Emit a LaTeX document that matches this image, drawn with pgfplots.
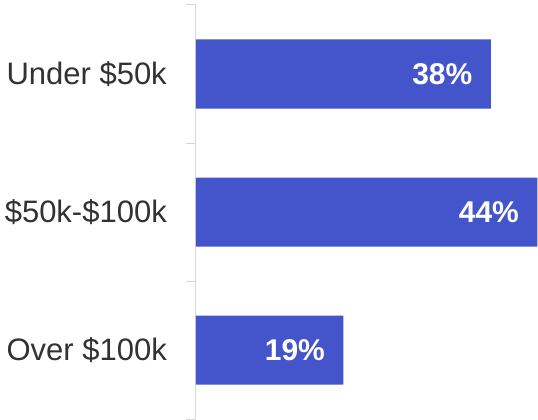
\documentclass[border=0pt]{standalone}
\usepackage{pgfplots}
\pgfplotsset{compat=1.18}
\usepackage{fontspec}
\setmainfont{Liberation Sans}
\definecolor{barblue}{RGB}{68,85,204}
\definecolor{labgray}{RGB}{50,50,50}
\definecolor{axgray}{RGB}{215,215,215}
\begin{document}
\begin{tikzpicture}
\begin{axis}[
  /pgf/number format/assume math mode=true,
  scale only axis,
  width=342pt, height=414pt,
  xbar, bar width=69pt,
  xmin=0, xmax=44.07,
  ymin=-0.5, ymax=2.5, y dir=reverse,
  ytick={0,1,2},
  yticklabels={Under \$50k, \$50k-\$100k, Over \$100k},
  yticklabel style={font=\fontsize{31}{36}\selectfont, text=labgray, inner sep=0pt, xshift=-29pt},
  axis x line=none,
  axis y line*=left,
  y axis line style={draw=axgray, line width=1pt, -},
  major tick length=0pt,
  extra y ticks={-0.5,0.5,1.5,2.5},
  extra y tick labels={},
  extra y tick style={grid=none, major tick length=10pt, tick align=outside, tick style={draw=axgray, line width=1pt}},
  nodes near coords={\pgfmathprintnumber{\pgfplotspointmeta}\%},
  every node near coord/.append style={anchor=east, xshift=-15pt, text=white, font=\fontsize{30}{36}\selectfont\bfseries},
  clip=false,
]
\addplot[fill=barblue, draw=none] coordinates {(38,0) (44,1) (19,2)};
\end{axis}
\path (current axis.south west) ++(-196pt,0pt);
\path (current axis.north east) ++(0pt,5pt);
\end{tikzpicture}
\end{document}
